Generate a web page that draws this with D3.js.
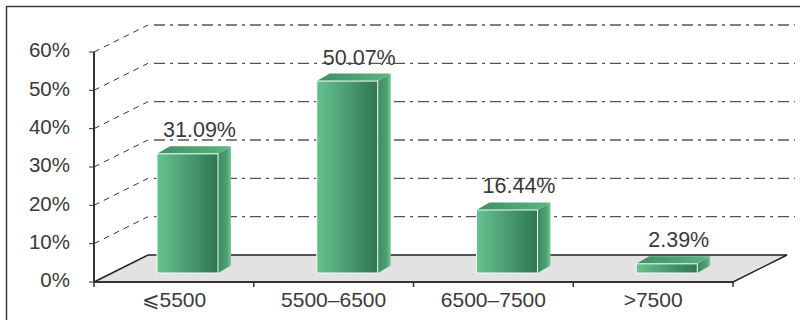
<!DOCTYPE html>
<html>
<head>
<meta charset="utf-8">
<script src="https://cdn.jsdelivr.net/npm/d3@7"></script>
<style>
  html, body { margin: 0; padding: 0; background: #fff; }
  svg { display: block; }
  text { font-family: "Liberation Sans", Arial, sans-serif; fill: #3a3a3a; }
</style>
</head>
<body>
<svg id="chart" width="800" height="320"></svg>
<script>
// Salary bands and their share of respondents
const categories = ["⩽5500", "5500–6500", "6500–7500", ">7500"];
const shares = [31.09, 50.07, 16.44, 2.39];
const yTicks = [0, 10, 20, 30, 40, 50, 60];

const svg = d3.select("#chart");

// front plane of the 3D box
const x = d3.scaleBand().domain(categories).range([94, 733]).paddingInner(0).paddingOuter(0);
const y = d3.scaleLinear().domain([0, 60]).range([282, 52]);

// depth of the whole floor / back wall
const DX = 54, DY = -27;
// bars sit part way into the depth
const BAR_DX = 0, BAR_DY = -9;
const BAR_OFF = 63, BAR_W = 61;
// depth of a single bar
const SDX = 13, SDY = -7.5;

// gradients
const defs = svg.append("defs");
function grad(id, stops) {
  const g = defs.append("linearGradient").attr("id", id)
    .attr("x1", "0%").attr("x2", "100%").attr("y1", "0%").attr("y2", "0%");
  stops.forEach(([o, c]) => g.append("stop").attr("offset", o).attr("stop-color", c));
}
grad("gFront", [["0%", "#66c290"], ["100%", "#2f7652"]]);
grad("gTop", [["0%", "#3f8f63"], ["60%", "#4fa674"], ["100%", "#5db583"]]);
grad("gSide", [["0%", "#3c8a5f"], ["70%", "#4fa270"], ["100%", "#7cc99c"]]);

// outer frame
svg.append("rect").attr("x", 6.5).attr("y", 6.5).attr("width", 820).attr("height", 400)
  .attr("fill", "none").attr("stroke", "#3a3a3a").attr("stroke-width", 1.5);

const x0 = x.range()[0], x1 = x.range()[1];

// floor
svg.append("path")
  .attr("d", `M${x0},${y(0)} L${x0 + DX},${y(0) + DY} L${x1 + DX},${y(0) + DY} L${x1},${y(0)} Z`)
  .attr("fill", "#e2e2e3").attr("stroke", "#222").attr("stroke-width", 1.4);

// back wall gridlines (dash-dot) and the diagonal guides on the left side
yTicks.filter(t => t > 0).forEach(t => {
  const yy = y(t) + DY;
  svg.append("line")
    .attr("x1", x0 + DX + 6).attr("x2", 795)
    .attr("y1", yy).attr("y2", yy)
    .attr("stroke", "#555").attr("stroke-width", 1.3)
    .attr("stroke-dasharray", "11,5,3,5");
  svg.append("line")
    .attr("x1", x0).attr("y1", y(t))
    .attr("x2", x0 + DX).attr("y2", y(t) + DY)
    .attr("stroke", "#333").attr("stroke-width", 1)
    .attr("stroke-dasharray", "6,5");
});

// bars
const bars = svg.append("g").selectAll("g").data(categories).join("g");
bars.each(function (c, i) {
  const g = d3.select(this);
  const v = shares[i];
  const l = x(c) + BAR_OFF + BAR_DX;
  const r = l + BAR_W;
  const b = y(0) + BAR_DY;
  const t = y(v) + BAR_DY;
  // side face
  g.append("path")
    .attr("d", `M${r},${b} L${r + SDX},${b + SDY} L${r + SDX},${t + SDY} L${r},${t} Z`)
    .attr("fill", "url(#gSide)");
  // top face
  g.append("path")
    .attr("d", `M${l},${t} L${l + SDX},${t + SDY} L${r + SDX},${t + SDY} L${r},${t} Z`)
    .attr("fill", "url(#gTop)");
  // front face
  g.append("rect")
    .attr("x", l).attr("y", t).attr("width", BAR_W).attr("height", b - t)
    .attr("fill", "url(#gFront)").attr("stroke", "#f4fbf6").attr("stroke-width", 1);
  // value label
  g.append("text")
    .attr("x", l + BAR_W / 2 + 12).attr("y", t + SDY - 9)
    .attr("text-anchor", "middle").attr("font-size", 21.5)
    .text(v.toFixed(2) + "%");
});

// front vertical axis
svg.append("line").attr("x1", x0).attr("x2", x0).attr("y1", y(60)).attr("y2", y(0))
  .attr("stroke", "#333").attr("stroke-width", 2);
// front baseline
svg.append("line").attr("x1", x0).attr("x2", x1).attr("y1", y(0)).attr("y2", y(0))
  .attr("stroke", "#333").attr("stroke-width", 2);

// y ticks and labels
const yAxis = svg.append("g");
yTicks.forEach(t => {
  yAxis.append("line").attr("x1", x0 - 5).attr("x2", x0).attr("y1", y(t)).attr("y2", y(t))
    .attr("stroke", "#333").attr("stroke-width", 1);
  yAxis.append("text").attr("x", 70).attr("y", y(t) - 2).attr("dy", "0.35em")
    .attr("text-anchor", "end").attr("font-size", 20.5)
    .text(t + "%");
});

// x ticks at band boundaries, labels centred in each band
const bounds = categories.map(c => x(c)).concat([x1]);
bounds.forEach(bx => {
  svg.append("line").attr("x1", bx).attr("x2", bx).attr("y1", y(0)).attr("y2", y(0) + 5)
    .attr("stroke", "#333").attr("stroke-width", 1.5);
});
categories.forEach(c => {
  svg.append("text").attr("x", x(c) + x.bandwidth() / 2).attr("y", 307)
    .attr("text-anchor", "middle").attr("font-size", 21)
    .text(c);
});
</script>
</body>
</html>
